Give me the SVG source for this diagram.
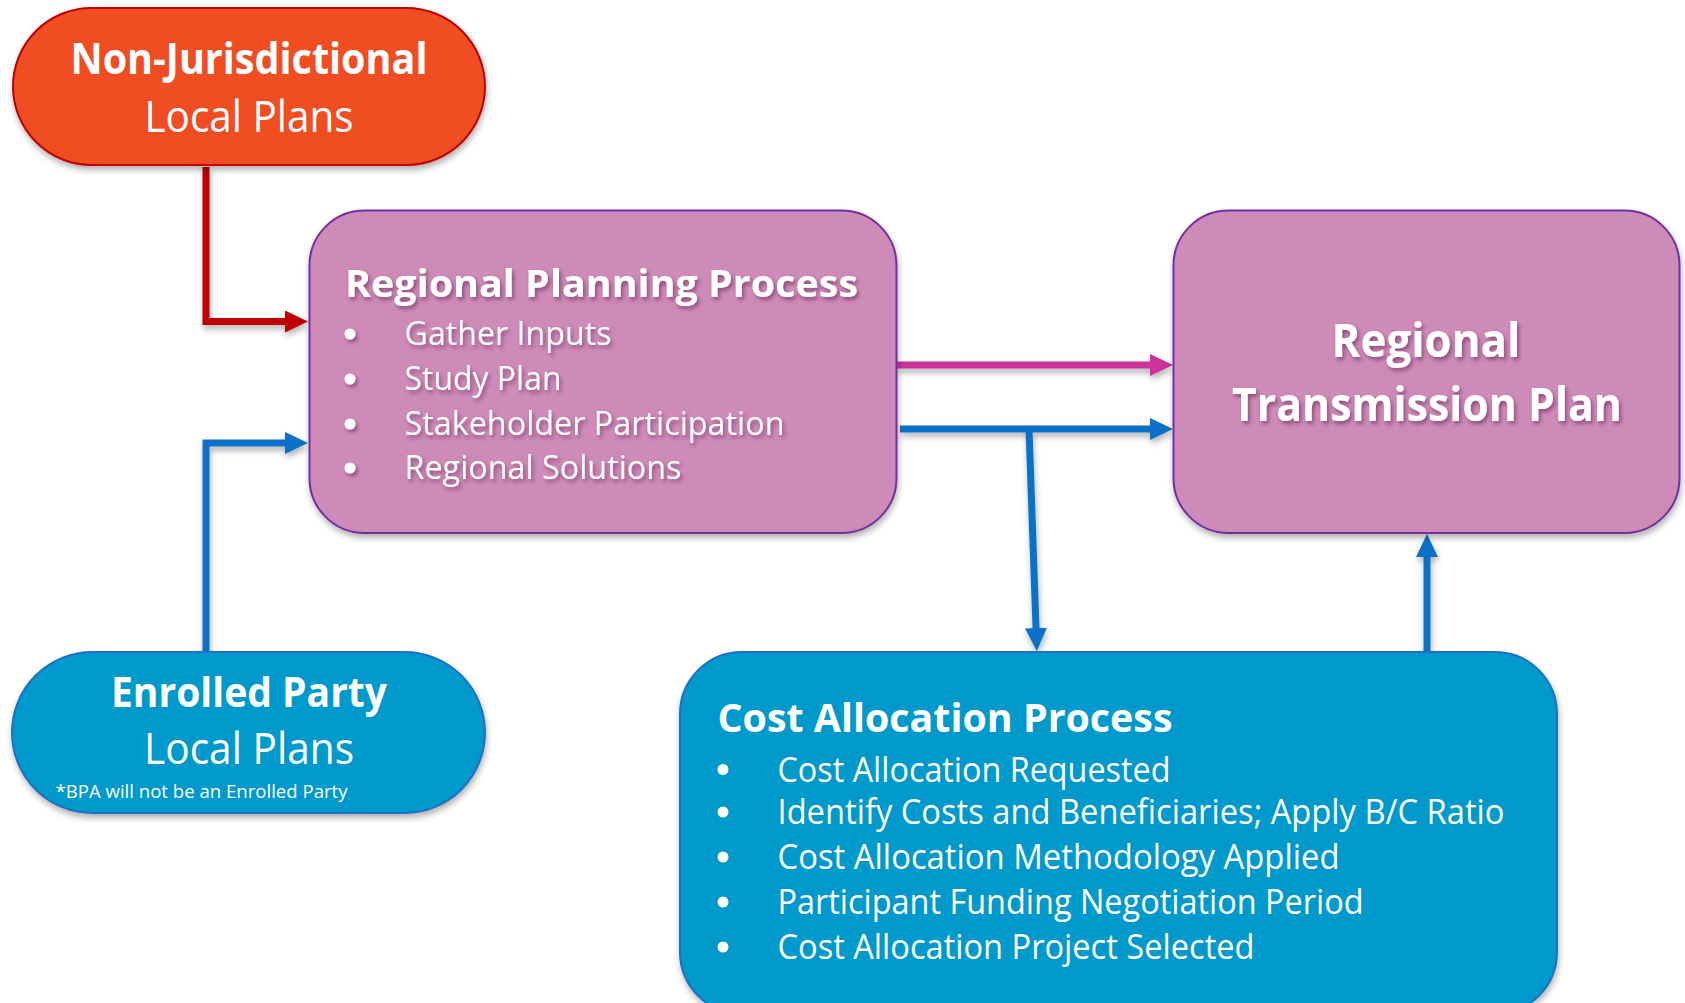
<svg xmlns="http://www.w3.org/2000/svg" width="1685" height="1003" viewBox="0 0 1685 1003">
<defs>
<style>
.t{font-family:"Open Sans","Noto Sans","Liberation Sans",sans-serif;fill:#ffffff}
.b{font-weight:bold}
.c{text-anchor:middle}
.conn{fill:none;stroke-width:7}
</style>
<filter id="sh" x="-10%" y="-10%" width="120%" height="130%">
<feDropShadow dx="1" dy="4" stdDeviation="3" flood-color="#000" flood-opacity="0.3"/>
</filter>
<filter id="tsh" x="-5%" y="-20%" width="110%" height="150%">
<feDropShadow dx="2" dy="3" stdDeviation="2" flood-color="#3a1030" flood-opacity="0.45"/>
</filter>
<marker id="ar" viewBox="0 -11 23 22" refX="0" refY="0" markerWidth="23" markerHeight="22" markerUnits="userSpaceOnUse" orient="auto"><path d="M0,-11 L23,0 L0,11 z" fill="#C00000"/></marker>
<marker id="ab" viewBox="0 -11 23 22" refX="0" refY="0" markerWidth="23" markerHeight="22" markerUnits="userSpaceOnUse" orient="auto"><path d="M0,-11 L23,0 L0,11 z" fill="#1170C8"/></marker>
<marker id="ap" viewBox="0 -11 23 22" refX="0" refY="0" markerWidth="23" markerHeight="22" markerUnits="userSpaceOnUse" orient="auto"><path d="M0,-11 L23,0 L0,11 z" fill="#CC3399"/></marker>
</defs>
<rect width="1685" height="1003" fill="#ffffff"/>

<g id="connectors" filter="url(#sh)">
<path class="conn" d="M206,167 V321.5 H285" stroke="#C00000" marker-end="url(#ar)"/>
<path class="conn" d="M206,653 V443 H285" stroke="#1170C8" marker-end="url(#ab)"/>
<path class="conn" d="M897,365 H1150" stroke="#CC3399" marker-end="url(#ap)"/>
<path class="conn" d="M900,429 H1150" stroke="#1170C8" marker-end="url(#ab)"/>
<path class="conn" d="M1029,429 L1036,628" stroke="#1170C8" marker-end="url(#ab)"/>
<path class="conn" d="M1427,652 V557" stroke="#1170C8" marker-end="url(#ab)"/>
</g>

<g id="non-jurisdictional">
<rect x="13" y="8" width="472" height="157" rx="78.5" fill="#F04E23" stroke="#C00000" stroke-width="2" filter="url(#sh)"/>
<text class="t b c" x="249" y="74" font-size="43" textLength="357" lengthAdjust="spacingAndGlyphs">Non-Jurisdictional</text>
<text class="t c" x="249" y="131.5" font-size="43" textLength="209" lengthAdjust="spacingAndGlyphs">Local Plans</text>
</g>

<g id="regional-planning-process">
<rect x="309.5" y="210.5" width="587" height="322.5" rx="55" fill="#CF8BB8" stroke="#7030A0" stroke-width="2" filter="url(#sh)"/>
<g filter="url(#tsh)">
<text class="t b" x="345" y="297" font-size="38" textLength="513" lengthAdjust="spacingAndGlyphs">Regional Planning Process</text>
<circle cx="350" cy="334" r="5.5" fill="#fff"/>
<circle cx="350" cy="379" r="5.5" fill="#fff"/>
<circle cx="350" cy="424" r="5.5" fill="#fff"/>
<circle cx="350" cy="468" r="5.5" fill="#fff"/>
<text class="t" x="404.5" y="345" font-size="33" textLength="207" lengthAdjust="spacingAndGlyphs">Gather Inputs</text>
<text class="t" x="404.5" y="390" font-size="33" textLength="157" lengthAdjust="spacingAndGlyphs">Study Plan</text>
<text class="t" x="404.5" y="435" font-size="33" textLength="380" lengthAdjust="spacingAndGlyphs">Stakeholder Participation</text>
<text class="t" x="404.5" y="479" font-size="33" textLength="277" lengthAdjust="spacingAndGlyphs">Regional Solutions</text>
</g>
</g>

<g id="regional-transmission-plan">
<rect x="1173.5" y="210.5" width="506" height="322.5" rx="55" fill="#CF8BB8" stroke="#7030A0" stroke-width="2" filter="url(#sh)"/>
<g filter="url(#tsh)">
<text class="t b c" x="1426" y="356.5" font-size="46" textLength="189" lengthAdjust="spacingAndGlyphs">Regional</text>
<text class="t b c" x="1427" y="420.5" font-size="46" textLength="390" lengthAdjust="spacingAndGlyphs">Transmission Plan</text>
</g>
</g>

<g id="enrolled-party">
<rect x="12" y="652" width="473" height="161" rx="80.5" fill="#0099CC" stroke="#1F6FC5" stroke-width="2" filter="url(#sh)"/>
<text class="t b c" x="249" y="706.5" font-size="41" textLength="276" lengthAdjust="spacingAndGlyphs">Enrolled Party</text>
<text class="t c" x="249" y="764" font-size="43" textLength="210" lengthAdjust="spacingAndGlyphs">Local Plans</text>
<text class="t" x="55.5" y="798" font-size="19" textLength="292" lengthAdjust="spacingAndGlyphs">*BPA will not be an Enrolled Party</text>
</g>

<g id="cost-allocation-process">
<rect x="680" y="652" width="877" height="362" rx="62" fill="#0099CC" stroke="#1F6FC5" stroke-width="2" filter="url(#sh)"/>
<text class="t b" x="717.5" y="731.5" font-size="39" textLength="455" lengthAdjust="spacingAndGlyphs">Cost Allocation Process</text>
<circle cx="723" cy="769.5" r="5.5" fill="#fff"/>
<circle cx="723" cy="812" r="5.5" fill="#fff"/>
<circle cx="723" cy="857" r="5.5" fill="#fff"/>
<circle cx="723" cy="902" r="5.5" fill="#fff"/>
<circle cx="723" cy="947" r="5.5" fill="#fff"/>
<text class="t" x="777.5" y="781.5" font-size="34" textLength="393" lengthAdjust="spacingAndGlyphs">Cost Allocation Requested</text>
<text class="t" x="777.5" y="824" font-size="34" textLength="727" lengthAdjust="spacingAndGlyphs">Identify Costs and Beneficiaries; Apply B/C Ratio</text>
<text class="t" x="777.5" y="869" font-size="34" textLength="562" lengthAdjust="spacingAndGlyphs">Cost Allocation Methodology Applied</text>
<text class="t" x="777.5" y="914" font-size="34" textLength="586" lengthAdjust="spacingAndGlyphs">Participant Funding Negotiation Period</text>
<text class="t" x="777.5" y="959" font-size="34" textLength="477" lengthAdjust="spacingAndGlyphs">Cost Allocation Project Selected</text>
</g>
</svg>
